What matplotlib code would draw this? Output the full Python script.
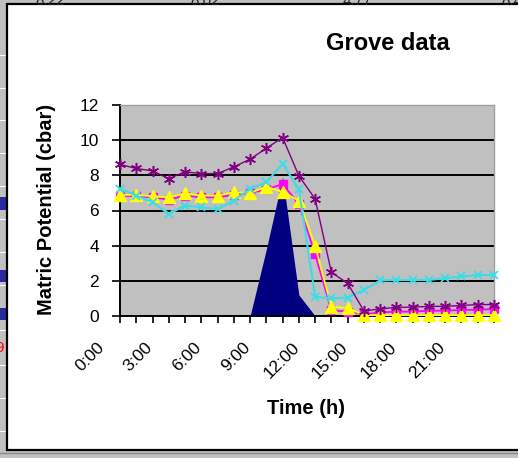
#!/usr/bin/env python3
"""
Grove data: matric potential over one day (Excel-style chart screenshot).
Writes out.png
"""

import matplotlib
matplotlib.use("Agg")
import matplotlib.pyplot as plt
from matplotlib.patches import Rectangle
from matplotlib.transforms import ScaledTranslation

plt.rcParams["font.family"] = ["Liberation Sans", "DejaVu Sans"]

# ----- data -----
hours = ["0:00", "1:00", "2:00", "3:00", "4:00", "5:00", "6:00", "7:00",
         "8:00", "9:00", "10:00", "11:00", "12:00", "13:00", "14:00", "15:00",
         "16:00", "17:00", "18:00", "19:00", "20:00", "21:00", "22:00", "23:00"]
shown_labels = ["0:00", "3:00", "6:00", "9:00", "12:00", "15:00", "18:00", "21:00"]

area_series = [0, 0, 0, 0, 0, 0, 0, 0, 0, 3.8, 7.9, 1.2,
               0, 0, 0, 0, 0, 0, 0, 0, 0, 0, 0, 0]
magenta_series = [6.85, 6.81, 6.75, 6.62, 6.85, 6.75, 6.75, 6.89, 7.0, 7.2, 7.5, 6.37,
                  3.5, 0.33, 0.25, 0.1, 0.2, 0.25, 0.25, 0.3, 0.3, 0.35, 0.35, 0.4]
yellow_series = [6.89, 6.89, 6.81, 6.75, 6.97, 6.85, 6.85, 7.04, 7.0, 7.35, 7.05, 6.56,
                 4.0, 0.52, 0.45, 0.05, 0.05, 0.05, 0.05, 0.05, 0.05, 0.05, 0.05, 0.05]
cyan_series = [7.24, 6.85, 6.47, 5.8, 6.28, 6.18, 6.09, 6.56, 7.24, 7.6, 8.67, 7.2,
               1.1, 1.0, 1.05, 1.48, 2.02, 2.05, 2.05, 2.05, 2.15, 2.25, 2.32, 2.34]
purple_series = [8.62, 8.39, 8.25, 7.81, 8.2, 8.1, 8.1, 8.48, 8.92, 9.54, 10.15, 7.97,
                 6.66, 2.48, 1.86, 0.29, 0.4, 0.5, 0.5, 0.55, 0.55, 0.6, 0.65, 0.65]
y_ticks = [0, 2, 4, 6, 8, 10, 12]

# cut-off spreadsheet numbers peeking above the chart
top_numbers = ["8.22", "8.02", "4.77", "8.4"]
top_numbers_x = [50, 205, 357, 512]

W, H = 518, 458
fig = plt.figure(figsize=(W / 100, H / 100), dpi=100, facecolor="#c0c0c0")

# ----- screenshot surroundings -----
for yy in [55, 88, 120, 153, 186, 219, 252, 285, 330, 365, 398, 431]:
    fig.add_artist(plt.Line2D([0, 6 / W], [1 - yy / H] * 2, color="white", lw=0.8, zorder=-2))
for y0, y1 in [(197, 210), (270, 282), (308, 320)]:
    fig.add_artist(Rectangle((0, 1 - y1 / H), 6 / W, (y1 - y0) / H,
                             transform=fig.transFigure, color="#2a2a9a", lw=0, zorder=-2))
fig.text(0, 1 - 348 / H, "9", color="red", fontsize=11, ha="center", va="center")
for s, xx in zip(top_numbers, top_numbers_x):
    fig.text(xx / W, 1 - 1 / H, s, fontsize=11, ha="center", va="center", color="#222222")

fig.add_artist(Rectangle((7 / W, 1 - 450 / H), 1.0, (450 - 4) / H,
                         transform=fig.transFigure, facecolor="white",
                         edgecolor="black", lw=1.6, zorder=-1))
fig.add_artist(plt.Line2D([0, 1], [1 - 453 / H] * 2, color="#8a8a8a", lw=1, zorder=-1))

# ----- chart -----
ax = fig.add_axes([120 / W, 1 - 316 / H, (494 - 120) / W, (316 - 105) / H])
ax.set_zorder(2)
ax.set_facecolor("#c0c0c0")
x = list(range(len(hours)))

ax.fill_between(x, area_series, 0, color="#000080", lw=0, zorder=2)
ax.plot(x, magenta_series, color="#ff00ff", lw=1.3, marker="s", ms=5.5,
        mec="#ff00ff", zorder=3, clip_on=False)
ax.plot(x, yellow_series, color="#ffff00", lw=1.3, marker="^", ms=8,
        mec="#ffff00", zorder=4, clip_on=False)
ax.plot(x, cyan_series, color="#3cdce8", lw=1.5, marker="x", ms=5.5,
        mew=1.3, zorder=5, clip_on=False)
ax.plot(x, purple_series, color="#800080", lw=1.0, marker=(6, 2, 0), ms=8,
        mew=1.1, zorder=6, clip_on=False)

ax.set_xlim(0, len(hours) - 1)
ax.set_ylim(0, 12)
ax.set_yticks(y_ticks)
ax.set_yticklabels([str(v) for v in y_ticks], fontsize=12.5)
ax.yaxis.grid(True, color="black", lw=1.4, zorder=1)
ax.set_axisbelow(True)

ax.set_xticks(x)
ax.set_xticklabels([h if h in shown_labels else "" for h in hours],
                   rotation=45, ha="right", va="top", fontsize=12.5)
ax.tick_params(axis="x", length=5, width=1.2, pad=12)
ax.tick_params(axis="y", length=6, width=1.2, pad=9)
for lbl in ax.get_xticklabels():
    lbl.set_transform(lbl.get_transform() + ScaledTranslation(-0.13, 0, fig.dpi_scale_trans))

for side in ["left", "bottom"]:
    ax.spines[side].set_color("black")
    ax.spines[side].set_linewidth(1.4)
for side in ["top", "right"]:
    ax.spines[side].set_color("#a0a0a0")
    ax.spines[side].set_linewidth(1.0)

fig.text(388 / W, 1 - 44 / H, "Grove data", fontsize=17, fontweight="bold",
         ha="center", va="center")
fig.text(47 / W, 1 - 209 / H, "Matric Potential (cbar)", fontsize=14.5,
         fontweight="bold", rotation=90, ha="center", va="center")
fig.text(306 / W, 1 - 408 / H, "Time (h)", fontsize=14.5, fontweight="bold",
         ha="center", va="center")

fig.savefig("out.png", dpi=100, facecolor=fig.get_facecolor())
